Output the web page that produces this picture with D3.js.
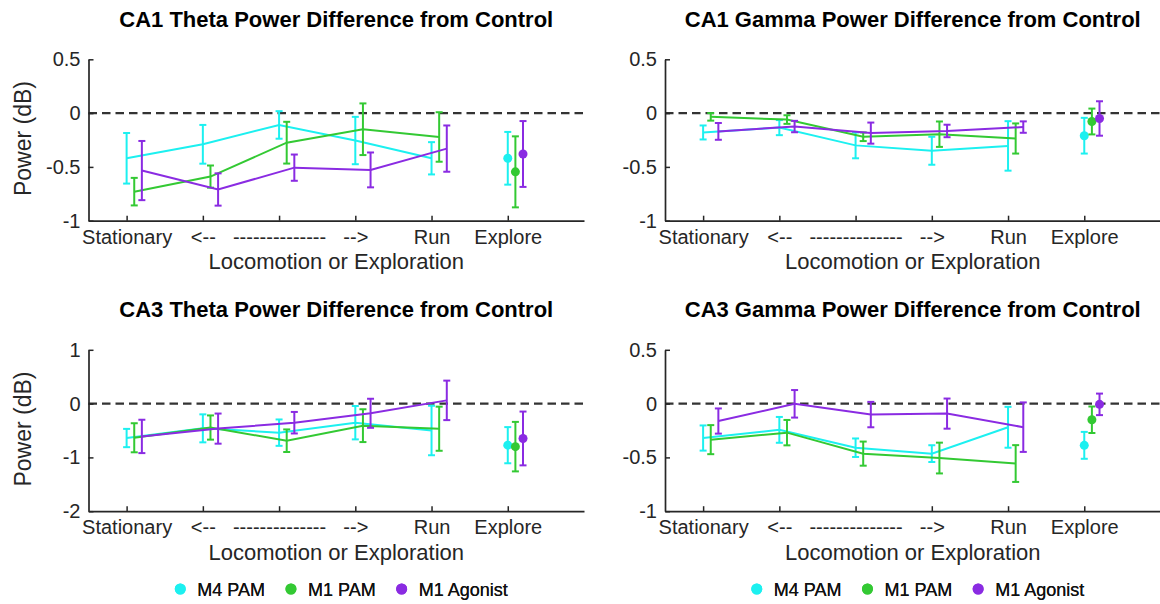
<!DOCTYPE html>
<html>
<head>
<meta charset="utf-8">
<script src="https://cdn.jsdelivr.net/npm/d3@7"></script>
<style>
  body { margin: 0; background: #fff; }
  svg { display: block; font-family: "Liberation Sans", Arial, sans-serif; }
</style>
</head>
<body>
<svg id="chart" width="1160" height="604"></svg>
<script>
// ---- data ----
const categories = [1, 2, 3, 4, 5, 6];
const tickLabels = ["Stationary", "<--", "--------------", "-->", "Run", "Explore"];
const seriesNames = ["M4 PAM", "M1 PAM", "M1 Agonist"];
const seriesColors = ["#1cf0f0", "#33c933", "#8a2be2"];
const seriesOffsets = [0, 0.1, 0.2];

const titles = [
  "CA1 Theta Power Difference from Control",
  "CA1 Gamma Power Difference from Control",
  "CA3 Theta Power Difference from Control",
  "CA3 Gamma Power Difference from Control"
];
const yTicksSmall = [-1, -0.5, 0, 0.5];
const yTicksLarge = [-2, -1, 0, 1];

// rows: M4 PAM, M1 PAM, M1 Agonist; columns follow categories
const ca1ThetaMean = [
  [-0.42, -0.29, -0.11, -0.255, -0.42, -0.42],
  [-0.73, -0.59, -0.275, -0.15, -0.222, -0.546],
  [-0.534, -0.71, -0.507, -0.528, -0.33, -0.38]
];
const ca1ThetaErr = [
  [0.235, 0.18, 0.128, 0.22, 0.15, 0.245],
  [0.128, 0.103, 0.194, 0.24, 0.23, 0.33],
  [0.275, 0.15, 0.122, 0.162, 0.215, 0.306]
];

const ca1GammaMean = [
  [-0.18, -0.135, -0.30, -0.35, -0.305, -0.21],
  [-0.035, -0.06, -0.22, -0.196, -0.236, -0.078],
  [-0.17, -0.125, -0.186, -0.166, -0.13, -0.05]
];
const ca1GammaErr = [
  [0.065, 0.07, 0.12, 0.13, 0.23, 0.166],
  [0.035, 0.04, 0.04, 0.118, 0.14, 0.12],
  [0.078, 0.053, 0.098, 0.058, 0.053, 0.16]
];

const ca3ThetaMean = [
  [-0.64, -0.46, -0.54, -0.355, -0.5, -0.773],
  [-0.635, -0.445, -0.69, -0.41, -0.467, -0.8],
  [-0.61, -0.465, -0.355, -0.18, 0.06, -0.648]
];
const ca3ThetaErr = [
  [0.17, 0.26, 0.245, 0.31, 0.46, 0.336],
  [0.27, 0.225, 0.21, 0.305, 0.41, 0.46],
  [0.31, 0.28, 0.2, 0.27, 0.367, 0.5]
];

const ca3GammaMean = [
  [-0.32, -0.244, -0.41, -0.465, -0.22, -0.388],
  [-0.335, -0.27, -0.465, -0.506, -0.557, -0.15],
  [-0.162, -0.002, -0.102, -0.093, -0.219, -0.007]
];
const ca3GammaErr = [
  [0.117, 0.12, 0.086, 0.078, 0.19, 0.125],
  [0.135, 0.118, 0.112, 0.143, 0.171, 0.123],
  [0.117, 0.128, 0.118, 0.14, 0.23, 0.1]
];

// ---- panel setup ----
const panels = [
  { title: titles[0], mean: ca1ThetaMean, err: ca1ThetaErr, yDomain: [-1, 0.5], yTicks: yTicksSmall, left: 88.5, right: 584, top: 59.3, bottom: 220.7, ylabel: true },
  { title: titles[1], mean: ca1GammaMean, err: ca1GammaErr, yDomain: [-1, 0.5], yTicks: yTicksSmall, left: 665, right: 1160.5, top: 59.3, bottom: 220.7, ylabel: false },
  { title: titles[2], mean: ca3ThetaMean, err: ca3ThetaErr, yDomain: [-2, 1], yTicks: yTicksLarge, left: 88.5, right: 584, top: 349.8, bottom: 511.2, ylabel: true },
  { title: titles[3], mean: ca3GammaMean, err: ca3GammaErr, yDomain: [-1, 0.5], yTicks: yTicksSmall, left: 665, right: 1160.5, top: 349.8, bottom: 511.2, ylabel: false }
];

const svg = d3.select("#chart");
const axisColor = "#262626";

panels.forEach(p => {
  const x = d3.scaleLinear().domain([0.5, 7]).range([p.left, p.right]);
  const y = d3.scaleLinear().domain(p.yDomain).range([p.bottom, p.top]);
  const g = svg.append("g");

  // zero reference line
  g.append("line")
    .attr("x1", x(0.5)).attr("x2", x(7))
    .attr("y1", y(0)).attr("y2", y(0))
    .attr("stroke", "#333").attr("stroke-width", 2.2)
    .attr("stroke-dasharray", "8.5,5");

  // series: connected lines for locomotion bins, dot for exploration
  p.mean.forEach((vals, s) => {
    const color = seriesColors[s];
    const off = seriesOffsets[s];
    const pts = categories.map((c, i) => ({ c, v: vals[i], e: p.err[s][i] }));
    const sg = g.append("g");

    const line = d3.line().x(d => x(d.c + off)).y(d => y(d.v));
    sg.append("path")
      .attr("d", line(pts.slice(0, 5)))
      .attr("fill", "none").attr("stroke", color).attr("stroke-width", 2);

    const bars = sg.selectAll(".eb").data(pts).join("g");
    bars.append("line")
      .attr("x1", d => x(d.c + off)).attr("x2", d => x(d.c + off))
      .attr("y1", d => y(d.v - d.e)).attr("y2", d => y(d.v + d.e))
      .attr("stroke", color).attr("stroke-width", 2);
    [1, -1].forEach(sign => {
      bars.append("line")
        .attr("x1", d => x(d.c + off) - 3.5).attr("x2", d => x(d.c + off) + 3.5)
        .attr("y1", d => y(d.v + sign * d.e)).attr("y2", d => y(d.v + sign * d.e))
        .attr("stroke", color).attr("stroke-width", 2);
    });

    sg.append("circle")
      .attr("cx", x(pts[5].c + off)).attr("cy", y(pts[5].v))
      .attr("r", 4.5).attr("fill", color);
  });

  // axes (ticks pointing inward)
  const xAxis = d3.axisBottom(x)
    .tickValues(categories)
    .tickFormat((d, i) => tickLabels[i])
    .tickSizeInner(-5).tickSizeOuter(0).tickPadding(9);
  const yAxis = d3.axisLeft(y)
    .tickValues(p.yTicks)
    .tickFormat(d => String(d))
    .tickSizeInner(-5).tickSizeOuter(0).tickPadding(8);

  const gx = g.append("g").attr("transform", `translate(0,${p.bottom})`).call(xAxis);
  const gy = g.append("g").attr("transform", `translate(${p.left},0)`).call(yAxis);
  [gx, gy].forEach(a => {
    a.select(".domain").attr("stroke", axisColor).attr("stroke-width", 1.7);
    a.selectAll(".tick line").attr("stroke", axisColor).attr("stroke-width", 1.5);
    a.selectAll(".tick text")
      .attr("fill", axisColor)
      .style("font-size", "20px")
      .style("font-family", "\"Liberation Sans\", Arial, sans-serif");
  });

  const cx = (p.left + p.right) / 2;

  // x label
  g.append("text")
    .attr("x", cx).attr("y", p.bottom + 48.5)
    .attr("text-anchor", "middle")
    .attr("fill", axisColor)
    .style("font-size", "22px")
    .text("Locomotion or Exploration");

  // y label
  if (p.ylabel) {
    g.append("text")
      .attr("transform", `translate(31,${(p.top + p.bottom) / 2 - 1.5}) rotate(-90)`)
      .attr("text-anchor", "middle")
      .attr("fill", axisColor)
      .style("font-size", "23px")
      .text("Power (dB)");
  }

  // title
  g.append("text")
    .attr("x", cx).attr("y", p.top - 32.5)
    .attr("text-anchor", "middle")
    .attr("fill", "#000")
    .style("font-size", "22px")
    .style("font-weight", "bold")
    .text(p.title);

  // legend
  const lg = g.append("g").attr("transform", "translate(0,589)");
  let cursor = 0;
  const items = seriesNames.map((name, i) => {
    const it = lg.append("g");
    it.append("circle").attr("cx", 0).attr("cy", 0).attr("r", 5.5).attr("fill", seriesColors[i]);
    const t = it.append("text").attr("x", 17).attr("y", 7)
      .attr("fill", "#111").style("font-size", "18px").text(name);
    const w = 17 + t.node().getComputedTextLength();
    it.attr("transform", `translate(${cursor},0)`);
    cursor += w + 26;
    return w;
  });
  const total = cursor - 26 + 5.5;
  lg.attr("transform", `translate(${cx + 5 - total / 2 + 5.5},589)`);
});
</script>
</body>
</html>
